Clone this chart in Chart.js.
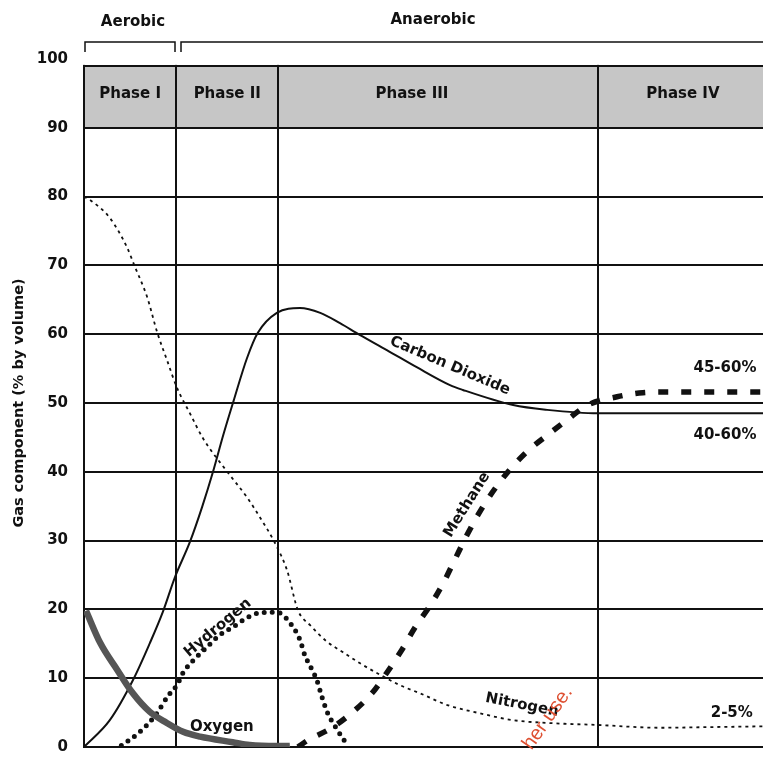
<!DOCTYPE html>
<html>
<head>
<meta charset="utf-8">
<script src="https://cdn.jsdelivr.net/npm/chart.js@4"></script>
<style>
  html, body { margin: 0; padding: 0; background: #fff; }
  #wrap { width: 763px; height: 759px; }
</style>
</head>
<body>
<div id="wrap"><canvas id="gasChart" width="763" height="759"></canvas></div>
<script>
// ==============================
// DATA (x = relative time, 0-100; y = % by volume)
// ==============================
const phaseNames = ['Phase I', 'Phase II', 'Phase III', 'Phase IV'];
const phaseBounds = [13.55, 28.6, 75.7];

const nitrogenX = [0, 0.9, 3.8, 6.3, 7.5, 9.3, 10.8, 12.2, 13.7, 15.6, 17.5, 21.1, 24.0, 25.9, 28.1, 29.9, 31.5, 33.3, 35.8, 38.1, 40.6, 43.6, 46.5, 49.5, 53.5, 58.3, 63.2, 68.2, 75.7, 84.8, 92.6, 100];
const nitrogenY = [80, 79.5, 76.9, 72.7, 69.8, 65.4, 60.2, 56.3, 52.2, 48.5, 44.9, 40.0, 36.3, 33.4, 29.7, 25.7, 19.9, 17.7, 15.3, 13.8, 12.2, 10.5, 9.0, 7.8, 6.1, 4.9, 3.9, 3.5, 3.2, 2.8, 2.9, 3.0];

const co2X = [0, 3.8, 7.2, 9.7, 11.6, 13.4, 15.6, 17.4, 19.0, 20.5, 22.0, 24.0, 25.6, 28.4, 31.8, 34.8, 37.7, 40.6, 44.6, 49.0, 53.9, 55.8, 63.2, 68.2, 75.7, 100];
const co2Y = [0, 3.9, 9.7, 15.1, 19.6, 24.7, 29.8, 34.9, 40.0, 45.3, 50.2, 56.5, 60.2, 63.1, 63.8, 63.1, 61.6, 59.9, 57.7, 55.2, 52.6, 51.9, 49.7, 49.0, 48.5, 48.5];

const methaneX = [31.5, 33.0, 36.5, 39.6, 42.4, 44.6, 46.8, 48.7, 51.0, 52.9, 54.6, 56.4, 58.0, 60.2, 62.7, 65.2, 68.2, 71.1, 74.2, 78.5, 82.3, 86.3, 100];
const methaneY = [0, 1.0, 2.8, 5.1, 7.8, 10.8, 14.1, 17.3, 20.6, 23.8, 27.2, 30.8, 33.7, 37.1, 40.3, 42.9, 45.3, 47.5, 49.7, 50.9, 51.5, 51.6, 51.6];

const hydrogenX = [5.5, 8.0, 10.5, 12.5, 13.7, 14.6, 16.1, 18.1, 20.0, 21.9, 24.0, 25.9, 28.4, 29.6, 30.6, 31.8, 32.5, 33.6, 34.3, 35.1, 35.9, 37.3, 38.7];
const hydrogenY = [0.2, 2.0, 4.6, 7.6, 9.0, 10.8, 12.6, 14.5, 16.3, 17.4, 18.8, 19.5, 19.6, 18.9, 17.7, 15.6, 13.4, 11.2, 9.7, 7.1, 4.9, 2.5, 0.4];

const oxygenX = [0.3, 2.4, 4.9, 7.2, 9.7, 12.2, 14.6, 17.1, 21.9, 24.4, 28.4, 30.3];
const oxygenY = [19.8, 15.1, 11.2, 7.8, 5.1, 3.5, 2.2, 1.5, 0.7, 0.3, 0.15, 0.15];

// ==============================
// HELPERS
// ==============================
const FONT = '"DejaVu Sans", "Liberation Sans", sans-serif';

function toPoints(xs, ys) {
    return xs.map((x, i) => ({ x: x, y: ys[i] }));
}

function curve(label, xs, ys, style) {
    return Object.assign({
        label: label,
        data: toPoints(xs, ys),
        pointRadius: 0,
        fill: false,
        cubicInterpolationMode: 'monotone',
        borderColor: '#111'
    }, style);
}

// ==============================
// DECORATION PLUGIN
// ==============================
const curveLabels = [
    { text: 'Carbon Dioxide', x: 53.9, y: 55.4, angle: 23 },
    { text: 'Methane', x: 56.4, y: 35.2, angle: -58 },
    { text: 'Hydrogen', x: 19.7, y: 17.3, angle: -40 },
    { text: 'Oxygen', x: 20.3, y: 2.9, angle: 0 },
    { text: 'Nitrogen', x: 64.5, y: 6.1, angle: 11 },
    { text: '45-60%', x: 94.4, y: 55.1, angle: 0 },
    { text: '40-60%', x: 94.4, y: 45.3, angle: 0 },
    { text: '2-5%', x: 95.4, y: 4.9, angle: 0 }
];
const phaseLabelX = [6.8, 21.1, 48.3, 88.2];

const decorPlugin = {
    id: 'decor',
    beforeDraw(chart) {
        const { ctx, chartArea, scales } = chart;
        const y = scales.y;
        ctx.save();
        ctx.fillStyle = '#c6c6c6';
        ctx.fillRect(chartArea.left, y.getPixelForValue(99), chartArea.right - chartArea.left,
            y.getPixelForValue(90) - y.getPixelForValue(99));
        ctx.restore();
    },
    beforeDatasetsDraw(chart) {
        const { ctx, chartArea, scales } = chart;
        const y = scales.y, x = scales.x;
        const top99 = y.getPixelForValue(99);
        ctx.save();
        // clear above the shaded band
        ctx.fillStyle = '#fff';
        ctx.fillRect(chartArea.left - 2, chartArea.top - 2, chartArea.right - chartArea.left + 4, top99 - chartArea.top + 1);
        ctx.strokeStyle = '#111';
        ctx.lineWidth = 2;
        ctx.beginPath();
        ctx.moveTo(chartArea.left - 1, top99);
        ctx.lineTo(chartArea.right, top99);
        ctx.stroke();

        // phase names in band
        ctx.fillStyle = '#111';
        ctx.font = 'bold 15px ' + FONT;
        ctx.textAlign = 'center';
        ctx.textBaseline = 'middle';
        phaseNames.forEach((name, i) => {
            ctx.fillText(name, x.getPixelForValue(phaseLabelX[i]), y.getPixelForValue(94.9));
        });

        // aerobic / anaerobic brackets
        const bTop = chartArea.top - 17, bBot = chartArea.top - 7;
        const b1 = x.getPixelForValue(phaseBounds[0]);
        ctx.lineWidth = 1.5;
        ctx.beginPath();
        ctx.moveTo(chartArea.left + 1, bBot);
        ctx.lineTo(chartArea.left + 1, bTop);
        ctx.lineTo(b1 - 1, bTop);
        ctx.lineTo(b1 - 1, bBot);
        ctx.moveTo(b1 + 5, bBot);
        ctx.lineTo(b1 + 5, bTop);
        ctx.lineTo(chartArea.right, bTop);
        ctx.stroke();
        ctx.fillText('Aerobic', 133, 22);
        ctx.fillText('Anaerobic', 433, 20);
        ctx.restore();
    },
    afterDatasetsDraw(chart) {
        const { ctx, scales } = chart;
        ctx.save();
        ctx.fillStyle = '#111';
        ctx.font = 'bold 15px ' + FONT;
        ctx.textAlign = 'center';
        ctx.textBaseline = 'middle';
        curveLabels.forEach(l => {
            ctx.save();
            ctx.translate(scales.x.getPixelForValue(l.x), scales.y.getPixelForValue(l.y));
            ctx.rotate(l.angle * Math.PI / 180);
            ctx.fillText(l.text, 0, 0);
            ctx.restore();
        });
        // scanned watermark fragment
        ctx.translate(scales.x.getPixelForValue(68.3), scales.y.getPixelForValue(4.2));
        ctx.rotate(-55 * Math.PI / 180);
        ctx.fillStyle = 'rgb(222, 80, 50)';
        ctx.font = '20px "Liberation Sans", sans-serif';
        ctx.fillText('her use.', 0, 0);
        ctx.restore();
    }
};

// ==============================
// CHART
// ==============================
const ctx = document.getElementById('gasChart').getContext('2d');

new Chart(ctx, {
    type: 'line',
    data: {
        datasets: [
            curve('Nitrogen', nitrogenX, nitrogenY, { borderWidth: 1.8, borderDash: [3, 4] }),
            curve('Oxygen edge', oxygenX, oxygenY, { borderWidth: 6.5, borderColor: '#555' }),
            curve('Oxygen', oxygenX, oxygenY, { borderWidth: 3.5, borderColor: '#b4b4b4' }),
            curve('Carbon Dioxide', co2X, co2Y, { borderWidth: 2 }),
            curve('Hydrogen', hydrogenX, hydrogenY, { borderWidth: 5, borderDash: [0, 8], borderCapStyle: 'round' }),
            curve('Methane', methaneX, methaneY, { borderWidth: 5.5, borderDash: [10, 13] })
        ]
    },
    options: {
        responsive: false,
        animation: false,
        layout: { padding: { top: 59, bottom: 12, left: 0, right: 0 } },
        plugins: {
            legend: { display: false },
            tooltip: { enabled: false }
        },
        scales: {
            x: {
                type: 'linear',
                min: 0,
                max: 100,
                afterBuildTicks: axis => { axis.ticks = phaseBounds.map(v => ({ value: v })); },
                afterFit: axis => { axis.height = 0; axis.paddingLeft = 0; axis.paddingRight = 0; },
                ticks: { display: false },
                grid: { color: '#111', lineWidth: 2, drawTicks: false },
                border: { display: false }
            },
            y: {
                min: 0,
                max: 100,
                afterFit: axis => {
                    axis.width = 84;
                    axis.paddingTop = 0;
                    axis.paddingBottom = 0;
                },
                ticks: {
                    stepSize: 10,
                    padding: 16,
                    color: '#111',
                    font: { family: FONT, size: 15, weight: 'bold' }
                },
                grid: {
                    color: c => c.tick && c.tick.value === 100 ? 'rgba(0,0,0,0)' : '#111',
                    lineWidth: 2,
                    drawTicks: false
                },
                border: { display: true, color: '#111', width: 2 },
                title: {
                    display: true,
                    text: 'Gas component (% by volume)',
                    color: '#111',
                    font: { family: FONT, size: 14.5, weight: 'bold' },
                    padding: { top: 11, bottom: 4 }
                }
            }
        }
    },
    plugins: [decorPlugin]
});
</script>
</body>
</html>
